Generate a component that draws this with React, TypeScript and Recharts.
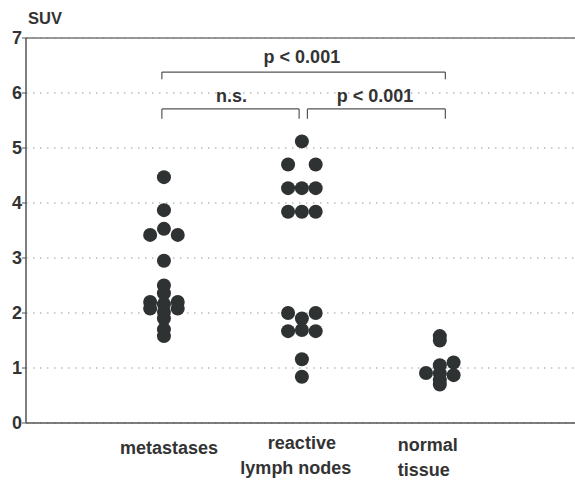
import React from 'react';
import {
  ScatterChart, Scatter, XAxis, YAxis, CartesianGrid, ReferenceLine, ReferenceDot,
} from 'recharts';

// group positions on the x axis (1 = metastases, 2 = reactive lymph nodes, 3 = normal tissue)
const groupNames = [['metastases'], ['reactive', 'lymph nodes'], ['normal', 'tissue']];
const yTicks = [0, 1, 2, 3, 4, 5, 6, 7];

// SUV values; x = group + small side offset
const metastasesX = [1, 1, 1, 0.9, 1.1, 1, 1, 1, 1, 1, 1, 1, 1, 0.9, 0.9, 1.1, 1.1];
const metastasesY = [4.47, 3.87, 3.53, 3.42, 3.42, 2.95, 2.5, 2.36, 2.16, 2.02, 1.9, 1.7, 1.58, 2.2, 2.08, 2.2, 2.08];

const reactiveX = [2, 1.9, 2.1, 1.9, 2, 2.1, 1.9, 2, 2.1, 1.9, 2.1, 1.9, 2.1, 2, 2, 2, 2];
const reactiveY = [5.12, 4.7, 4.7, 4.27, 4.27, 4.27, 3.84, 3.84, 3.84, 2.0, 2.0, 1.67, 1.67, 1.9, 1.69, 1.16, 0.84];

const normalX = [3, 3, 3, 3, 3, 3, 2.9, 3.1, 3.1];
const normalY = [1.58, 1.5, 1.05, 0.9, 0.78, 0.7, 0.91, 1.1, 0.87];

const toPoints = (xs: number[], ys: number[]) => xs.map((x, i) => ({ x, y: ys[i] }));

const allPoints = [
  ...toPoints(metastasesX, metastasesY),
  ...toPoints(reactiveX, reactiveY),
  ...toPoints(normalX, normalY),
];

const FONT = 'Liberation Sans, Arial, sans-serif';
const DOT = '#2f3232';

const GroupTick = (props: any) => {
  const { x, y, payload } = props;
  const idx = payload.value - 1;
  const lines = groupNames[idx] || [];
  const dy = [31, 26, 28][idx];
  const dx = [5, 0, -42][idx];
  const anchor = idx === 2 ? 'start' : 'middle';
  return (
    <g>
      {lines.map((l, i) => (
        <text
          key={i}
          x={x + dx - (idx === 1 && i === 1 ? 6 : 0)}
          y={y + dy + i * 25}
          textAnchor={anchor}
          fontFamily={FONT}
          fontWeight="bold"
          fontSize={18}
          fill="#333"
        >
          {l}
        </text>
      ))}
    </g>
  );
};

const bracketStyle = { stroke: '#555', strokeWidth: 1.2, ifOverflow: 'visible' as const };
const pLabel = { position: 'center' as const, fill: '#333', fontSize: 18, fontWeight: 'bold', fontFamily: FONT };

const App = () => {
  return (
    <div style={{ position: 'absolute', left: 0, top: 0, background: '#fff' }}>
      <ScatterChart width={575} height={480} margin={{ top: 38, right: 0, bottom: 0, left: 0 }}>
        <CartesianGrid horizontal vertical={false} stroke="#999" strokeDasharray="1.5 5.5" />
        <XAxis
          type="number"
          dataKey="x"
          domain={[0, 3.98]}
          ticks={[1, 2, 3]}
          height={57}
          tick={<GroupTick />}
          tickLine={false}
          tickSize={0}
          tickMargin={0}
          axisLine={{ stroke: '#555', strokeWidth: 1.5 }}
          allowDataOverflow
        />
        <YAxis
          type="number"
          dataKey="y"
          domain={[0, 7]}
          ticks={yTicks}
          width={26}
          tickSize={4}
          tickMargin={0}
          tickLine={{ stroke: '#555' }}
          axisLine={{ stroke: '#555', strokeWidth: 1.5 }}
          tick={{ fill: '#333', fontSize: 18, fontWeight: 'bold', fontFamily: FONT }}
        />
        <ReferenceLine y={7} stroke="#777" strokeWidth={1.5} />
        {/* brackets */}
        <ReferenceLine segment={[{ x: 0.985, y: 6.25 }, { x: 0.985, y: 6.38 }]} {...bracketStyle} />
        <ReferenceLine segment={[{ x: 0.985, y: 6.38 }, { x: 3.04, y: 6.38 }]} {...bracketStyle} />
        <ReferenceLine segment={[{ x: 3.04, y: 6.38 }, { x: 3.04, y: 6.25 }]} {...bracketStyle} />
        <ReferenceLine segment={[{ x: 0.985, y: 5.53 }, { x: 0.985, y: 5.71 }]} {...bracketStyle} />
        <ReferenceLine segment={[{ x: 0.985, y: 5.71 }, { x: 1.98, y: 5.71 }]} {...bracketStyle} />
        <ReferenceLine segment={[{ x: 1.98, y: 5.71 }, { x: 1.98, y: 5.53 }]} {...bracketStyle} />
        <ReferenceLine segment={[{ x: 2.04, y: 5.53 }, { x: 2.04, y: 5.71 }]} {...bracketStyle} />
        <ReferenceLine segment={[{ x: 2.04, y: 5.71 }, { x: 3.04, y: 5.71 }]} {...bracketStyle} />
        <ReferenceLine segment={[{ x: 3.04, y: 5.71 }, { x: 3.04, y: 5.53 }]} {...bracketStyle} />
        <ReferenceDot x={2} y={6.67} r={0} stroke="none" fill="none" label={{ value: 'p < 0.001', ...pLabel }} />
        <ReferenceDot x={1.49} y={5.96} r={0} stroke="none" fill="none" label={{ value: 'n.s.', ...pLabel }} />
        <ReferenceDot x={2.53} y={5.96} r={0} stroke="none" fill="none" label={{ value: 'p < 0.001', ...pLabel }} />
        <Scatter
          data={allPoints}
          isAnimationActive={false}
          shape={(p: any) => <circle cx={p.cx} cy={p.cy} r={7} fill={DOT} />}
        />
        <text x={28} y={24} fontFamily={FONT} fontWeight="bold" fontSize={16.5} fill="#333">SUV</text>
      </ScatterChart>
    </div>
  );
};

export default App;
